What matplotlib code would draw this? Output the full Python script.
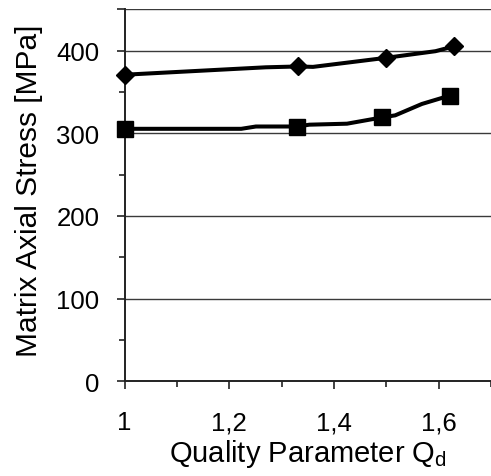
import matplotlib
matplotlib.use('Agg')
import matplotlib.pyplot as plt
from matplotlib.ticker import MultipleLocator

plt.rcParams['font.family'] = ['Liberation Sans', 'DejaVu Sans']

# Upper curve (diamonds): line vertices and measured points
qd_upper = [1.0, 1.27, 1.332, 1.36, 1.50, 1.594, 1.63]
stress_upper = [371, 380, 381, 380.5, 391.5, 399.5, 405.5]
qd_upper_pts = [1.0, 1.332, 1.50, 1.63]
stress_upper_pts = [371, 381, 391.5, 405.5]

# Lower curve (squares)
qd_lower = [1.0, 1.223, 1.251, 1.33, 1.353, 1.425, 1.492, 1.517, 1.568, 1.621]
stress_lower = [305.5, 305.5, 308.3, 308.3, 310.5, 311.7, 319.3, 321.8, 335.6, 345.7]
qd_lower_pts = [1.0, 1.33, 1.492, 1.621]
stress_lower_pts = [305.5, 308.3, 319.3, 345.7]

x_ticks = [1.0, 1.2, 1.4, 1.6]
x_tick_labels = ['1', '1,2', '1,4', '1,6']
y_ticks = [0, 100, 200, 300, 400, 450]
y_tick_labels = ['0', '100', '200', '300', '400', '']

fig = plt.figure(figsize=(4.91, 4.77), dpi=100)
ax = fig.add_axes([0.2536, 0.199, 0.7464, 0.779])

for y in y_ticks[1:]:
    ax.axhline(y, color='#3a3a3a', lw=1.0, zorder=1)

ax.plot(qd_upper, stress_upper, color='black', lw=2.9, zorder=3, solid_joinstyle='round')
ax.plot(qd_upper_pts, stress_upper_pts, ls='none', marker='D', ms=9,
        color='black', zorder=4, clip_on=False)
ax.plot(qd_lower, stress_lower, color='black', lw=2.9, zorder=3, solid_joinstyle='round')
ax.plot(qd_lower_pts, stress_lower_pts, ls='none', marker='s', ms=11,
        color='black', zorder=4, clip_on=False)

ax.set_xlim(1.0, 1.7)
ax.set_ylim(0, 450)
ax.set_xticks(x_ticks)
ax.set_xticklabels(x_tick_labels)
ax.set_yticks(y_ticks)
ax.set_yticklabels(y_tick_labels)
ax.xaxis.set_minor_locator(MultipleLocator(0.1))
ax.yaxis.set_minor_locator(MultipleLocator(50))

ax.tick_params(which='major', direction='out', length=6, width=1.2,
               labelsize=18.5, pad=11, color='#222222')
ax.tick_params(which='minor', direction='out', length=4.3, width=1.2, color='#222222')
ax.tick_params(axis='y', which='major', pad=12)
ax.tick_params(axis='x', which='major', pad=15)

for side in ('top', 'right'):
    ax.spines[side].set_visible(False)
for side in ('left', 'bottom'):
    ax.spines[side].set_linewidth(1.4)
    ax.spines[side].set_color('#222222')

ax.set_xlabel('Quality Parameter Q$_\\mathregular{d}$', fontsize=21, labelpad=2)
ax.set_ylabel('Matrix Axial Stress [MPa]', fontsize=21.5, labelpad=10)
ax.yaxis.label.set_y(0.516)

fig.savefig('out.png', dpi=100)
